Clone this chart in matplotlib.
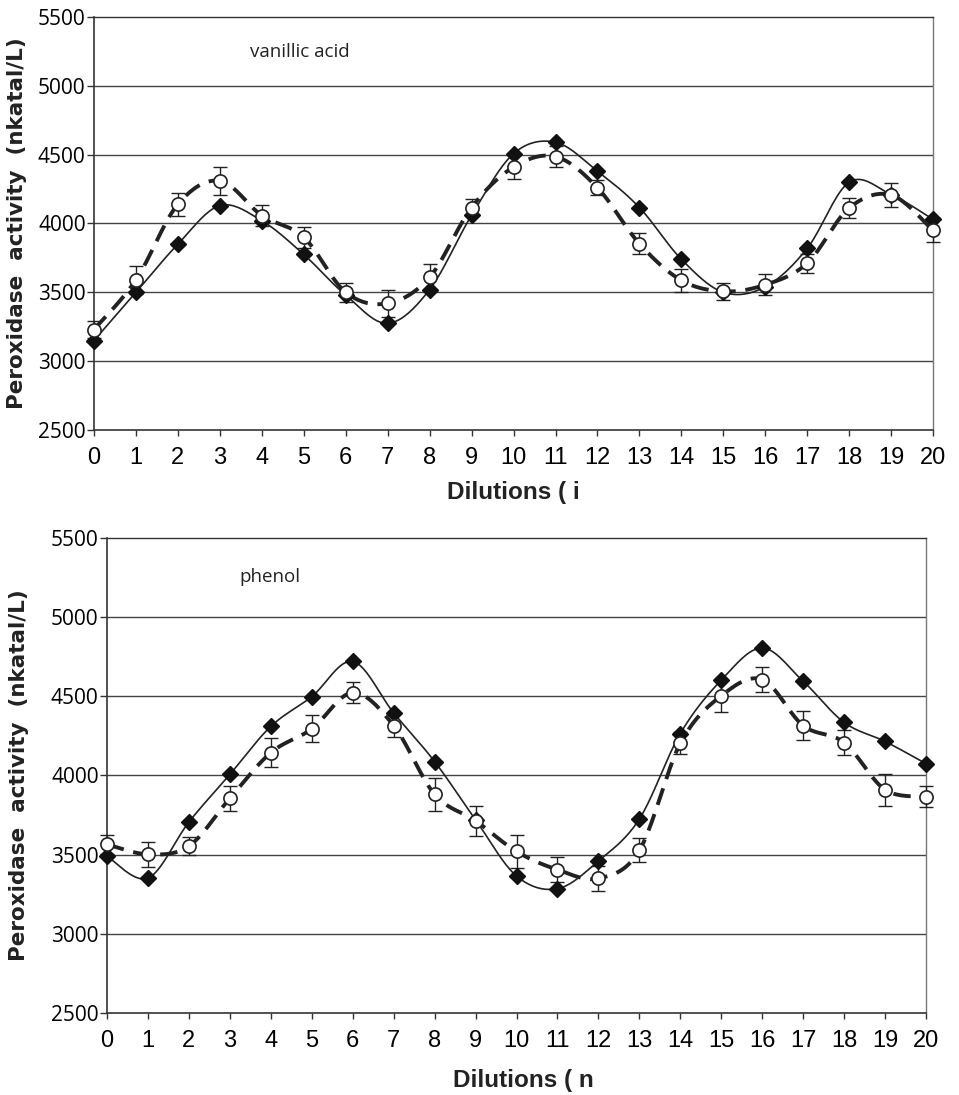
import numpy as np
import matplotlib
matplotlib.use("Agg")
import matplotlib.pyplot as plt

dilutions = list(range(21))
tick_labels = [str(d) for d in dilutions]
y_ticks = [2500, 3000, 3500, 4000, 4500, 5000, 5500]

# vanillic acid panel
vanillic_filled = [3150, 3500, 3850, 4130, 4020, 3775, 3480, 3275, 3520, 4060,
                   4507, 4590, 4380, 4116, 3740, 3500, 3540, 3820, 4300, 4210, 4030]
vanillic_open = [3230, 3590, 4140, 4310, 4058, 3900, 3500, 3420, 3610, 4116,
                 4410, 4486, 4260, 3853, 3587, 3507, 3555, 3712, 4113, 4207, 3950]
vanillic_err = [65, 100, 85, 100, 75, 75, 70, 100, 95, 60,
                90, 75, 55, 75, 85, 60, 75, 70, 70, 85, 85]

# phenol panel
phenol_filled = [3490, 3352, 3706, 4007, 4310, 4498, 4720, 4395, 4088, 3720,
                 3365, 3285, 3460, 3725, 4265, 4602, 4805, 4595, 4335, 4215, 4075]
phenol_open = [3565, 3502, 3554, 3856, 4144, 4294, 4523, 4315, 3881, 3714,
               3520, 3405, 3350, 3527, 4203, 4503, 4606, 4315, 4208, 3910, 3867]
phenol_err = [60, 80, 55, 80, 90, 85, 65, 75, 105, 95,
              105, 80, 80, 75, 70, 100, 80, 90, 80, 100, 65]


def smooth(x, y, n=20):
    # Catmull-Rom curve through the points, like a spreadsheet "smoothed line"
    x = np.asarray(x, float)
    y = np.asarray(y, float)
    px = np.concatenate([[x[0]], x, [x[-1]]])
    py = np.concatenate([[y[0]], y, [y[-1]]])
    xs, ys = [], []
    t = np.linspace(0, 1, n, endpoint=False)
    for i in range(1, len(px) - 2):
        for p, out in ((px, xs), (py, ys)):
            p0, p1, p2, p3 = p[i - 1], p[i], p[i + 1], p[i + 2]
            out.extend(0.5 * (2 * p1 + (-p0 + p2) * t
                              + (2 * p0 - 5 * p1 + 4 * p2 - p3) * t ** 2
                              + (-p0 + 3 * p1 - 3 * p2 + p3) * t ** 3))
    xs.append(x[-1])
    ys.append(y[-1])
    return np.array(xs), np.array(ys)


fig = plt.figure(figsize=(9.59, 10.95), dpi=100)
panels = [
    ([0.098, 0.6073, 0.875, 0.3772], "vanillic acid", vanillic_filled,
     vanillic_open, vanillic_err, "Dilutions ( i", (0.186, 0.915),
     (-0.080, 0.5), (0.5, -0.123)),
    ([0.1116, 0.0749, 0.854, 0.4338], "phenol", phenol_filled,
     phenol_open, phenol_err, "Dilutions ( n", (0.162, 0.918),
     (-0.095, 0.5), (0.508, -0.117)),
]

for rect, name, filled, opened, err, xlab, txt_pos, ylab_pos, xlab_pos in panels:
    ax = fig.add_axes(rect)
    for v in y_ticks[1:-1]:
        ax.axhline(v, color="#444444", linewidth=1.0, zorder=1)

    sx, sy = smooth(dilutions, filled)
    ax.plot(sx, sy, color="#222222", linewidth=1.2, zorder=2)
    ox, oy = smooth(dilutions, opened)
    ax.plot(ox, oy, color="#222222", linewidth=2.8,
            dashes=(4.5, 2.5), zorder=2)

    ax.errorbar(dilutions, opened, yerr=err, fmt="none", ecolor="#222222",
                elinewidth=1.0, capsize=5, capthick=1.0, zorder=3,
                clip_on=False)
    ax.plot(dilutions, filled, linestyle="none", marker="D", markersize=8,
            color="#111111", zorder=4, clip_on=False)
    ax.plot(dilutions, opened, linestyle="none", marker="o", markersize=9.5,
            markerfacecolor="white", markeredgecolor="#222222",
            markeredgewidth=1.2, zorder=5, clip_on=False)

    ax.set_xlim(0, 20)
    ax.set_ylim(2500, 5500)
    ax.set_xticks(dilutions)
    ax.set_xticklabels(tick_labels, family=["Liberation Sans", "DejaVu Sans"],
                       fontsize=17)
    ax.set_yticks(y_ticks)
    ax.set_yticklabels([str(v) for v in y_ticks],
                       family=["Open Sans", "DejaVu Sans"], fontsize=15)
    ax.tick_params(axis="y", direction="out", length=5, width=1.0,
                   pad=1, color="#333333")
    ax.tick_params(axis="x", direction="out", length=4, width=1.0,
                   pad=8, color="#333333")
    for side, spine in ax.spines.items():
        spine.set_color("#333333" if side in ("left", "bottom", "top")
                        else "#777777")
        spine.set_linewidth(1.2 if side in ("left", "bottom") else 1.0)

    ax.text(txt_pos[0], txt_pos[1], name, transform=ax.transAxes,
            fontsize=13.5, va="center", ha="left",
            family=["Open Sans", "DejaVu Sans"], color="#222222")

    ax.set_ylabel("Peroxidase  activity  (nkatal/L)", fontsize=15.5,
                  fontweight="bold", family="DejaVu Sans", color="#222222")
    ax.yaxis.set_label_coords(*ylab_pos)
    ax.set_xlabel(xlab, fontsize=17.5, fontweight="bold",
                  family=["Liberation Sans", "DejaVu Sans"], color="#222222")
    ax.xaxis.set_label_coords(*xlab_pos)

fig.savefig("out.png", dpi=100)
